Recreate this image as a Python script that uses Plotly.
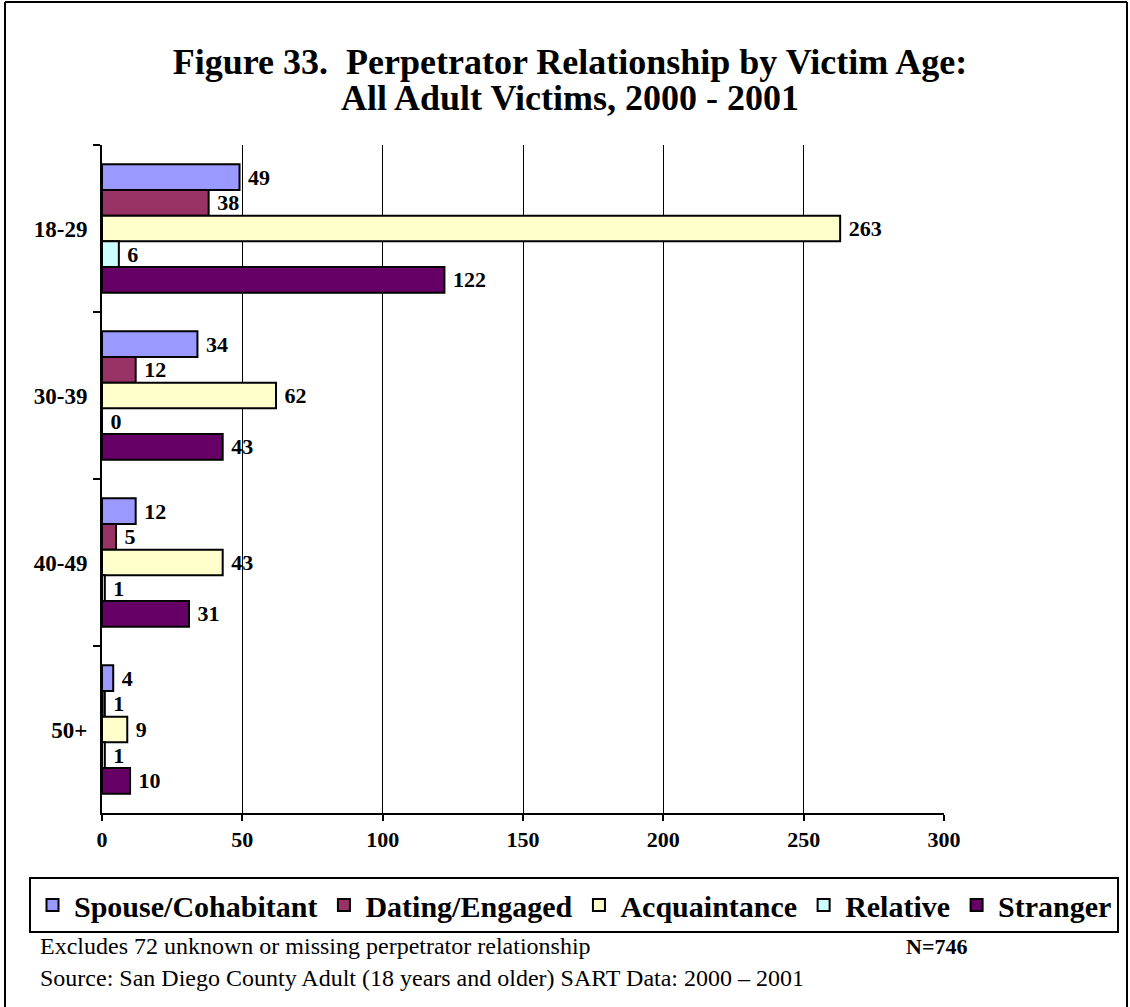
import plotly.graph_objects as go

ages = ["18-29", "30-39", "40-49", "50+"]
series_names = ["Spouse/Cohabitant", "Dating/Engaged", "Acquaintance", "Relative", "Stranger"]
spouse = [49, 34, 12, 4]
dating = [38, 12, 5, 1]
acquaintance = [263, 62, 43, 9]
relative = [6, 0, 1, 1]
stranger = [122, 43, 31, 10]
colors = ["#9999FF", "#993366", "#FFFFCC", "#CCFFFF", "#660066"]
x_ticks = [0, 50, 100, 150, 200, 250, 300]

values = [spouse, dating, acquaintance, relative, stranger]
FONT = "Liberation Serif"

fig = go.Figure()
for name, vals, col in zip(series_names, values, colors):
    fig.add_trace(go.Bar(
        name=name, y=ages, x=vals, orientation="h",
        marker=dict(color=col, line=dict(color="black", width=2)),
        texttemplate=" %{x}", textposition="outside",
        textfont=dict(family=FONT, size=22, color="black", weight="bold"),
        cliponaxis=False, hoverinfo="x+name",
    ))

W, H = 1130, 1007
L, R, T, B = 102, 944, 145, 813
def px(xp):
    return xp / W
def py(yp):
    return 1 - yp / H

fig.update_layout(
    width=W, height=H,
    margin=dict(l=0, r=0, t=0, b=0, autoexpand=False),
    paper_bgcolor="white", plot_bgcolor="white",
    barmode="group", bargap=0.232, bargroupgap=0,
    font=dict(family=FONT, color="black"),
    title=dict(
        text="Figure 33.\u00a0 Perpetrator Relationship by Victim Age:",
        x=570 / W, xanchor="center", y=1 - 61 / H, yanchor="middle",
        font=dict(family=FONT, size=36, color="black", weight="bold"),
    ),
    xaxis=dict(
        domain=[px(L), px(R)],
        range=[0, 300], tickvals=x_ticks, ticks="outside", ticklen=6, tickcolor="black", tickwidth=2,
        showline=True, linecolor="black", linewidth=2,
        showgrid=True, gridcolor="black", gridwidth=1, zeroline=False,
        tickfont=dict(family=FONT, size=22, color="black", weight="bold"),
    ),
    yaxis=dict(
        domain=[py(B), py(T)],
        autorange="reversed", ticks="outside", ticklen=7, tickcolor="black", tickwidth=2,
        tickson="boundaries", ticklabelstandoff=8,
        showline=True, linecolor="black", linewidth=2, showgrid=False,
        tickfont=dict(family=FONT, size=23, color="black", weight="bold"),
    ),
    legend=dict(
        orientation="h",
        x=px(29), xanchor="left", y=py(877), yanchor="top",
        bordercolor="black", borderwidth=2, bgcolor="white",
        font=dict(family=FONT, size=30, color="black", weight="bold"),
        traceorder="normal", itemwidth=33,
    ),
    showlegend=True,
)

fig.add_annotation(text="All Adult Victims, 2000 - 2001",
                   xref="paper", yref="paper", x=px(570), y=py(98), xanchor="center", yanchor="middle",
                   showarrow=False, font=dict(family=FONT, size=36, color="black", weight="bold"))
fig.add_annotation(text="Excludes 72 unknown or missing perpetrator relationship",
                   xref="paper", yref="paper", x=px(38), y=py(946), xanchor="left", yanchor="middle",
                   showarrow=False, font=dict(family=FONT, size=24, color="black"))
fig.add_annotation(text="N=746",
                   xref="paper", yref="paper", x=px(904), y=py(946), xanchor="left", yanchor="middle",
                   showarrow=False, font=dict(family=FONT, size=22, color="black", weight="bold"))
fig.add_annotation(text="Source: San Diego County Adult (18 years and older) SART Data: 2000 \u2013 2001",
                   xref="paper", yref="paper", x=px(38), y=py(978), xanchor="left", yanchor="middle",
                   showarrow=False, font=dict(family=FONT, size=24, color="black"))

# outer frame
for x0, y0, x1, y1 in [(5, 2, 1127, 2), (5, 2, 5, 1010), (1127, 2, 1127, 1010)]:
    fig.add_shape(type="line", xref="paper", yref="paper",
                  x0=px(x0), y0=py(y0), x1=px(x1), y1=py(y1),
                  line=dict(color="black", width=2))

fig.write_html("out.html", config={"displayModeBar": False},
               post_script="document.body.style.margin='0';")
